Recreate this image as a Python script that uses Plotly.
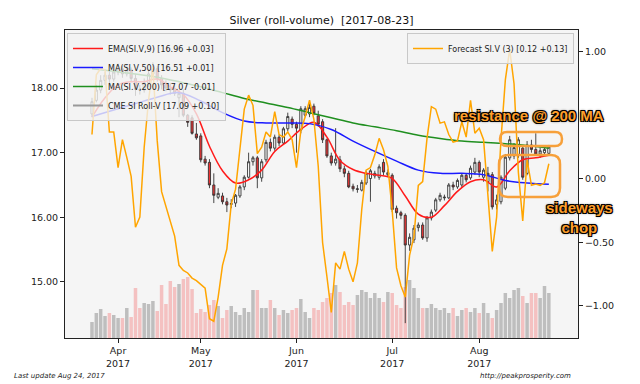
import pandas as pd
import plotly.graph_objects as go

# ---------------- data ----------------
holidays = {"2017-04-14", "2017-05-29", "2017-07-04"}
dates = [d.strftime("%Y-%m-%d") for d in pd.bdate_range("2017-03-24", "2017-08-23")
         if d.strftime("%Y-%m-%d") not in holidays]

opens = [17.60, 17.81, 17.97, 18.12, 18.20, 18.14, 18.25, 18.30, 18.22, 18.28,
         18.15, 17.98, 17.97, 18.08, 18.22, 18.30, 18.15, 18.05, 18.00, 17.99,
         17.85, 17.92, 17.58, 17.54, 17.29, 17.26, 16.90, 16.85, 16.50, 16.31,
         16.33, 16.24, 16.20, 16.22, 16.33, 16.47, 16.62, 16.86, 16.92, 16.61,
         16.89, 17.16, 17.07, 17.24, 17.15, 17.37, 17.52, 17.44, 17.35, 17.58,
         17.60, 17.72, 17.57, 17.48, 17.20, 16.95, 16.84, 16.89, 16.75, 16.68,
         16.48, 16.43, 16.42, 16.53, 16.60, 16.64, 16.62, 16.85, 16.66, 16.65,
         16.14, 16.07, 16.03, 15.57, 15.65, 15.84, 15.88, 15.68, 15.99, 16.11,
         16.27, 16.30, 16.30, 16.50, 16.47, 16.50, 16.65, 16.61, 16.70, 16.85,
         16.62, 16.55, 16.66, 16.20, 16.24, 16.45, 16.92, 16.95, 16.97, 17.07,
         16.68, 17.12, 17.05, 16.98, 17.00, 16.99]
highs = [17.85, 18.05, 18.20, 18.25, 18.28, 18.30, 18.38, 18.34, 18.36, 18.32,
         18.22, 18.05, 18.15, 18.30, 18.40, 18.34, 18.20, 18.12, 18.08, 18.04,
         17.97, 17.98, 17.60, 17.58, 17.46, 17.30, 16.95, 16.90, 16.68, 16.45,
         16.38, 16.30, 16.28, 16.36, 16.50, 16.65, 17.00, 16.95, 16.95, 16.90,
         17.20, 17.22, 17.28, 17.28, 17.40, 17.62, 17.56, 17.48, 17.72, 17.72,
         17.76, 17.76, 17.65, 17.52, 17.22, 17.00, 17.38, 16.95, 16.80, 16.72,
         16.52, 16.50, 16.58, 16.72, 16.75, 16.72, 16.82, 16.90, 16.74, 16.68,
         16.18, 16.10, 16.06, 15.75, 15.88, 15.92, 15.92, 16.02, 16.12, 16.30,
         16.38, 16.35, 16.53, 16.55, 16.60, 16.68, 16.68, 16.80, 16.92, 16.88,
         16.76, 16.78, 16.70, 16.35, 16.65, 16.98, 17.26, 17.15, 17.24, 17.12,
         17.18, 17.20, 17.30, 17.08, 17.08, 17.12]
lows = [17.55, 17.78, 17.92, 18.05, 18.08, 18.10, 18.20, 18.16, 18.18, 18.10,
        17.88, 17.90, 17.93, 18.02, 18.18, 18.10, 17.98, 17.95, 17.90, 17.88,
        17.55, 17.55, 17.40, 17.28, 17.20, 16.85, 16.80, 16.45, 16.22, 16.28,
        16.20, 16.08, 16.14, 16.16, 16.30, 16.42, 16.60, 16.80, 16.45, 16.55,
        16.85, 17.02, 17.03, 17.10, 17.12, 17.33, 17.38, 17.00, 17.30, 17.55,
        17.55, 17.58, 17.40, 17.15, 16.92, 16.80, 16.80, 16.70, 16.62, 16.45,
        16.40, 16.38, 16.40, 16.50, 16.24, 16.60, 16.58, 16.65, 16.62, 16.08,
        15.98, 15.97, 14.36, 15.48, 15.60, 15.78, 15.65, 15.62, 15.95, 16.08,
        16.24, 16.26, 16.28, 16.42, 16.44, 16.47, 16.54, 16.58, 16.66, 16.62,
        16.55, 16.40, 16.12, 16.12, 16.20, 16.42, 16.88, 16.90, 16.92, 16.58,
        16.65, 17.00, 16.95, 16.92, 16.96, 16.95]
closes = [17.79, 17.97, 18.12, 18.20, 18.14, 18.25, 18.30, 18.22, 18.28, 18.15,
          17.98, 17.97, 18.08, 18.22, 18.30, 18.15, 18.05, 18.00, 17.97, 17.92,
          17.92, 17.58, 17.47, 17.30, 17.23, 16.89, 16.84, 16.50, 16.34, 16.37,
          16.24, 16.19, 16.21, 16.34, 16.47, 16.62, 16.86, 16.92, 16.61, 16.86,
          17.16, 17.07, 17.24, 17.15, 17.37, 17.56, 17.44, 17.38, 17.68, 17.68,
          17.70, 17.61, 17.44, 17.20, 16.95, 16.84, 16.90, 16.75, 16.68, 16.47,
          16.44, 16.44, 16.54, 16.68, 16.72, 16.68, 16.78, 16.70, 16.69, 16.12,
          16.07, 16.03, 15.57, 15.69, 15.83, 15.88, 15.68, 15.99, 16.08, 16.27,
          16.34, 16.31, 16.50, 16.47, 16.57, 16.65, 16.58, 16.76, 16.85, 16.70,
          16.73, 16.68, 16.16, 16.27, 16.62, 16.93, 17.20, 17.08, 17.20, 16.62,
          17.12, 17.05, 16.98, 17.03, 17.05, 17.09]
volume_k = [16, 25, 29, 22, 25, 23, 20, 20, 30, 21,
            50, 30, 35, 34, 37, 27, 53, 34, 57, 51,
            54, 59, 61, 49, 25, 29, 26, 33, 38, 32,
            20, 28, 32, 26, 23, 30, 26, 48, 48, 30,
            30, 38, 30, 23, 28, 25, 28, 30, 39, 26,
            20, 30, 28, 36, 40, 45, 53, 46, 33, 36,
            33, 43, 48, 46, 40, 45, 40, 36, 46, 45,
            33, 30, 51, 58, 50, 40, 30, 30, 34, 30,
            28, 30, 25, 30, 22, 28, 30, 26, 30, 25,
            35, 25, 20, 28, 35, 45, 40, 48, 50, 42,
            35, 45, 45, 40, 52, 45]
forecast = [0.35, 0.82, 0.87, 0.86, 0.37, 0.37, 0.09, 0.31, 0.17, 0.02,
            -0.38, -0.30, 0.25, 0.62, 0.88, 0.30, -0.10, -0.22, -0.33, -0.45,
            -0.68, -0.72, -0.74, -0.78, -0.80, -0.83, -0.86, -1.10, -1.12, -0.93,
            -0.68, -0.55, -0.20, -0.08, 0.25, 0.55, 0.66, 0.58, 0.20, 0.25,
            0.37, 0.33, 0.53, 0.35, 0.33, 0.37, 0.31, 0.09, 0.38, 0.49,
            0.62, 0.47, 0.10, -0.50, -0.77, -1.05, -0.66, -0.71, -0.57, -0.71,
            -0.81, -0.66, -0.24, 0.07, 0.09, 0.19, 0.32, 0.23, 0.10, -0.25,
            -0.70, -0.84, -0.93, -0.60, -0.45, -0.05, -0.02, 0.32, 0.57, 0.55,
            0.44, 0.45, 0.35, 0.29, 0.30, 0.45, 0.33, 0.62, 0.36, 0.40,
            0.31, -0.14, -0.57, -0.30, 0.31, 0.78, 1.02, 0.75, 0.05, -0.33,
            0.15, -0.05, -0.04, -0.05, -0.03, 0.12]

# indicator lines (EMA every 3rd session, MAs every 5th)
ema9 = [17.55, 17.85, 18.05, 18.10, 18.10, 18.14, 18.02, 17.90, 17.60, 17.10,
        16.72, 16.53, 16.58, 16.73, 17.02, 17.18, 17.36, 17.47, 17.24, 16.88,
        16.74, 16.68, 16.65, 16.60, 16.33, 16.05, 16.00, 16.18, 16.40, 16.55,
        16.58, 16.47, 16.72, 16.89, 16.92, 16.96]
ma50 = [17.56, 17.66, 17.76, 17.86, 17.93, 17.80, 17.62, 17.49, 17.46, 17.46,
        17.45, 17.36, 17.18, 17.02, 16.87, 16.73, 16.68, 16.68, 16.66, 16.57,
        16.53, 16.51]
ma200 = [18.30, 18.26, 18.22, 18.17, 18.10, 18.02, 17.93, 17.84, 17.77, 17.70,
         17.62, 17.54, 17.46, 17.40, 17.34, 17.27, 17.22, 17.18, 17.16, 17.14,
         17.11, 17.07]

month_ticks = ["2017-04-03", "2017-05-01", "2017-06-01", "2017-07-03", "2017-08-01"]
month_labels = ["Apr<br>2017", "May<br>2017", "Jun<br>2017", "Jul<br>2017", "Aug<br>2017"]

names = {
    "ema": "EMA(SI.V,9) [16.96 +0.03]",
    "ma50": "MA(SI.V,50) [16.51 +0.01]",
    "ma200": "MA(SI.V,200) [17.07 -0.01]",
    "cme": "CME SI Roll-V [17.09 +0.10]",
    "fc": "Forecast SI.V (3) [0.12 +0.13]",
}

# ---------------- figure ----------------
FONT = "DejaVu Sans"
W, H = 640, 384
ML, MR, MT, MB = 65, 62, 30, 46
PW, PH = W - ML - MR, H - MT - MB

vol_colors = ["rgba(242,150,150,0.55)" if c < o else "rgba(160,160,160,0.65)"
              for o, c in zip(opens, closes)]

fig = go.Figure()

fig.add_trace(go.Bar(x=dates, y=volume_k, marker=dict(color=vol_colors, line=dict(width=0)),
                     yaxis="y", showlegend=False, hoverinfo="skip"))

fig.add_trace(go.Candlestick(
    x=dates, open=opens, high=highs, low=lows, close=closes, yaxis="y2",
    increasing=dict(fillcolor="white", line=dict(color="#333333", width=0.9)),
    decreasing=dict(fillcolor="#ee3535", line=dict(color="#333333", width=0.9)),
    showlegend=False, name="CME SI Roll-V"))

fig.add_trace(go.Scatter(x=dates[::3], y=ema9, mode="lines", yaxis="y2",
                         line=dict(color="#ff1a1a", width=1.5, shape="spline"),
                         name=names["ema"], legend="legend"))
fig.add_trace(go.Scatter(x=dates[::5], y=ma50, mode="lines", yaxis="y2",
                         line=dict(color="#1a1aff", width=1.5, shape="spline"),
                         name=names["ma50"], legend="legend"))
fig.add_trace(go.Scatter(x=dates[::5], y=ma200, mode="lines", yaxis="y2",
                         line=dict(color="#1f8f1f", width=1.5, shape="spline"),
                         name=names["ma200"], legend="legend"))
fig.add_trace(go.Scatter(x=[None], y=[None], mode="lines", yaxis="y2",
                         line=dict(color="#999999", width=2),
                         name=names["cme"], legend="legend"))
fig.add_trace(go.Scatter(x=dates, y=forecast, mode="lines", yaxis="y3",
                         line=dict(color="#ffa500", width=1.5),
                         name=names["fc"], legend="legend2"))


def pxp(x):
    return (x - ML) / PW


def pyp(y):
    return (H - MB - y) / PH


def rrect(x0, y0, x1, y1, r):
    """rounded rectangle path in paper coords; corners given in pixels of the figure"""
    rx, ry = r / PW, r / PH
    a, b, c, d = pxp(x0), pyp(y1), pxp(x1), pyp(y0)  # left, bottom, right, top
    return (f"M {a+rx},{b} L {c-rx},{b} Q {c},{b} {c},{b+ry} L {c},{d-ry} "
            f"Q {c},{d} {c-rx},{d} L {a+rx},{d} Q {a},{d} {a},{d-ry} "
            f"L {a},{b+ry} Q {a},{b} {a+rx},{b} Z")


ORANGE = "#f7a03a"
shapes = [
    dict(type="path", xref="paper", yref="paper", path=rrect(500, 132, 562, 146, 7),
         line=dict(color=ORANGE, width=2.5), layer="above"),
    dict(type="path", xref="paper", yref="paper", path=rrect(499, 155, 560, 197, 9),
         line=dict(color=ORANGE, width=2.5), layer="above"),
]

shadow = ("-1px -1px 0 #000, 1px -1px 0 #000, -1px 1px 0 #000, 1px 1px 0 #000, "
          "0 0 3px #000")
anno_font = dict(family="Liberation Sans", size=15, color="#ff9f2a", weight="bold",
                 shadow=shadow)

annotations = [
    dict(text="resistance @ 200 MA", x=pxp(529), y=pyp(115), xref="paper", yref="paper",
         showarrow=False, font=anno_font, xanchor="center", yanchor="middle"),
    dict(text="sideways<br>chop", x=pxp(579), y=pyp(217), xref="paper", yref="paper",
         showarrow=False, font=anno_font, xanchor="center", yanchor="middle", align="center"),
    dict(text="Last update Aug 24, 2017", x=pxp(12), y=pyp(376), xref="paper", yref="paper",
         showarrow=False, xanchor="left", yanchor="middle",
         font=dict(family=FONT, size=7, color="#222", style="italic")),
    dict(text="http://peakprosperity.com", x=pxp(525), y=pyp(376), xref="paper", yref="paper",
         showarrow=False, xanchor="center", yanchor="middle",
         font=dict(family=FONT, size=7, color="#222", style="italic")),
]

tickfont = dict(family=FONT, size=9.5, color="#222")
legend_style = dict(font=dict(family=FONT, size=8, color="#222"),
                    bgcolor="rgba(242,242,242,0.8)", bordercolor="#c8c8c8", borderwidth=1,
                    xref="paper", yref="paper", yanchor="top", tracegroupgap=0)

fig.update_layout(
    width=W, height=H,
    margin=dict(l=ML, r=MR, t=MT, b=MB, autoexpand=False),
    paper_bgcolor="white", plot_bgcolor="#f5f5f5",
    title=dict(text="Silver (roll-volume)\u00a0 [2017-08-23]", x=pxp(321.5), xref="paper",
               y=1 - 20 / H, yref="container", xanchor="center", yanchor="middle",
               font=dict(family=FONT, size=11, color="#111")),
    xaxis=dict(type="category", range=[-6.2, 111.7], tickvals=month_ticks,
               ticktext=month_labels, tickfont=tickfont, ticks="outside", ticklen=4,
               tickcolor="#222", showline=True, linecolor="#222", linewidth=1, mirror=True,
               showgrid=False, zeroline=False, rangeslider=dict(visible=False)),
    yaxis=dict(visible=False, range=[0, PH], fixedrange=True),
    yaxis2=dict(overlaying="y", side="left", range=[14.13, 18.90],
                tickvals=[15, 16, 17, 18], tickformat=".2f", tickfont=tickfont,
                ticks="outside", ticklen=4, tickcolor="#222", showline=True,
                linecolor="#222", linewidth=1, showgrid=False, zeroline=False),
    yaxis3=dict(overlaying="y", side="right", range=[-1.252, 1.173],
                tickvals=[-1.0, -0.5, 0.0, 1.0], tickformat=".2f", tickfont=tickfont,
                ticks="outside", ticklen=4, tickcolor="#222", showline=True,
                linecolor="#222", linewidth=1, showgrid=False, zeroline=False),
    bargap=0.2,
    legend=dict(x=pxp(67), y=pyp(33), xanchor="left", **legend_style),
    legend2=dict(x=pxp(574), y=pyp(33), xanchor="right", **legend_style),
    shapes=shapes,
    annotations=annotations,
    showlegend=True,
)

fig.write_html("out.html",
               config={"displayModeBar": False},
               post_script="document.body.style.margin='0';document.body.style.padding='0';"
                           "document.body.style.overflow='hidden';")
